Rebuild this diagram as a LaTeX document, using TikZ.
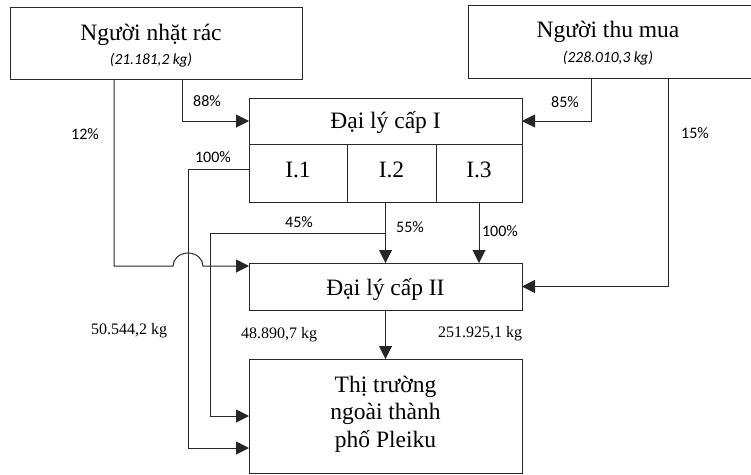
\documentclass[tikz,border=0pt]{standalone}
\usepackage{fontspec}
\setmainfont{Liberation Serif}
\newfontfamily\lab{Carlito}
\usetikzlibrary{arrows.meta,calc}
\begin{document}
\begin{tikzpicture}[x=1pt,y=1pt,
  box/.style={draw=black!85, line width=1pt, inner sep=0pt, outer sep=0pt},
  conn/.style={draw=black!85, line width=1pt},
  arr/.style={conn, -{Triangle[length=13pt,width=13pt]}},
  title/.style={font=\fontsize{23.5}{28}\selectfont, anchor=base, inner sep=0pt},
  sub/.style={font=\lab\itshape\fontsize{15.5}{18}\selectfont, anchor=base, inner sep=0pt},
  pct/.style={font=\lab\fontsize{16}{19}\selectfont, inner sep=0pt},
  kg/.style={font=\fontsize{16}{19}\selectfont, inner sep=0pt}]
\clip (0,0) rectangle (751,-474);
% boxes
\node[box, anchor=north west, minimum width=292pt, minimum height=71.5pt] (A) at (10,-7.5) {};
\node[box, anchor=north west, minimum width=312pt, minimum height=73pt] (B) at (468,-5) {};
\node[box, anchor=north west, minimum width=273pt, minimum height=46pt] (C) at (249,-98) {};
\node[box, anchor=north west, minimum width=98pt, minimum height=58pt] (I1) at (249,-144) {};
\node[box, anchor=north west, minimum width=89pt, minimum height=58pt] (I2) at (347,-144) {};
\node[box, anchor=north west, minimum width=86pt, minimum height=58pt] (I3) at (436,-144) {};
\node[box, anchor=north west, minimum width=273pt, minimum height=47pt] (D) at (249,-263) {};
\node[box, anchor=north west, minimum width=273pt, minimum height=114pt] (E) at (249,-359) {};
% texts
\node[title] (At) at (151,-40) {Người nhặt rác};
\node[sub] (As) at (151,-64) {(21.181,2 kg)};
\node[title] (Bt) at (608,-37.5) {Người thu mua};
\node[sub] (Bs) at (608,-62) {(228.010,3 kg)};
\node[title] (Ct) at (385.5,-128) {Đại lý cấp I};
\node[title] (I1t) at (298,-177) {I.1};
\node[title] (I2t) at (391.5,-177) {I.2};
\node[title] (I3t) at (479,-177) {I.3};
\node[title] (Dt) at (385.5,-295) {Đại lý cấp II};
\node[font=\fontsize{23.5}{27.5}\selectfont, align=center, inner sep=0pt] (Et) at (385.5,-414) {Thị trường\\ngoài thành\\phố Pleiku};
% connectors
\draw[arr] ([xshift=172pt]A.south west) |- (C.west);
\draw[arr] ([xshift=123pt]B.south west) |- (C.east);
\coordinate (d12) at ([yshift=-3pt]D.north west);
\draw[arr] ([xshift=104pt]A.south west) |- ([xshift=-76pt]d12) arc[start angle=180,end angle=0,x radius=15,y radius=13] -- (d12);
\draw[arr] ([yshift=4pt]I1.west) -- ++(-61,0) |- ([yshift=-32pt]E.west);
\draw[arr] (D.north |- I2.south) -- (D.north);
\draw[arr] ($(D.north)+(0,30)$) -- ++(-174.8,0) |- (E.west);
\draw[arr] (I3.south) -- (I3.south |- D.north);
\draw[arr] ([xshift=200pt]B.south west) |- (D.east);
\draw[arr] (D.south) -- (E.north);
% labels
\node[pct] (p88) at (207,-101) {88\%};
\node[pct] (p12) at (85,-134) {12\%};
\node[pct] (p100a) at (213,-157) {100\%};
\node[pct] (p45) at (299,-222) {45\%};
\node[pct] (p85) at (565,-102) {85\%};
\node[pct] (p15) at (695,-133) {15\%};
\node[pct] (p55) at (410,-227) {55\%};
\node[pct] (p100b) at (500,-231) {100\%};
\node[kg] (k1) at (279,-335) {48.890,7 kg};
\node[kg] (k2) at (480,-334) {251.925,1 kg};
\node[kg] (k3) at (129,-331) {50.544,2 kg};
\end{tikzpicture}
\end{document}
